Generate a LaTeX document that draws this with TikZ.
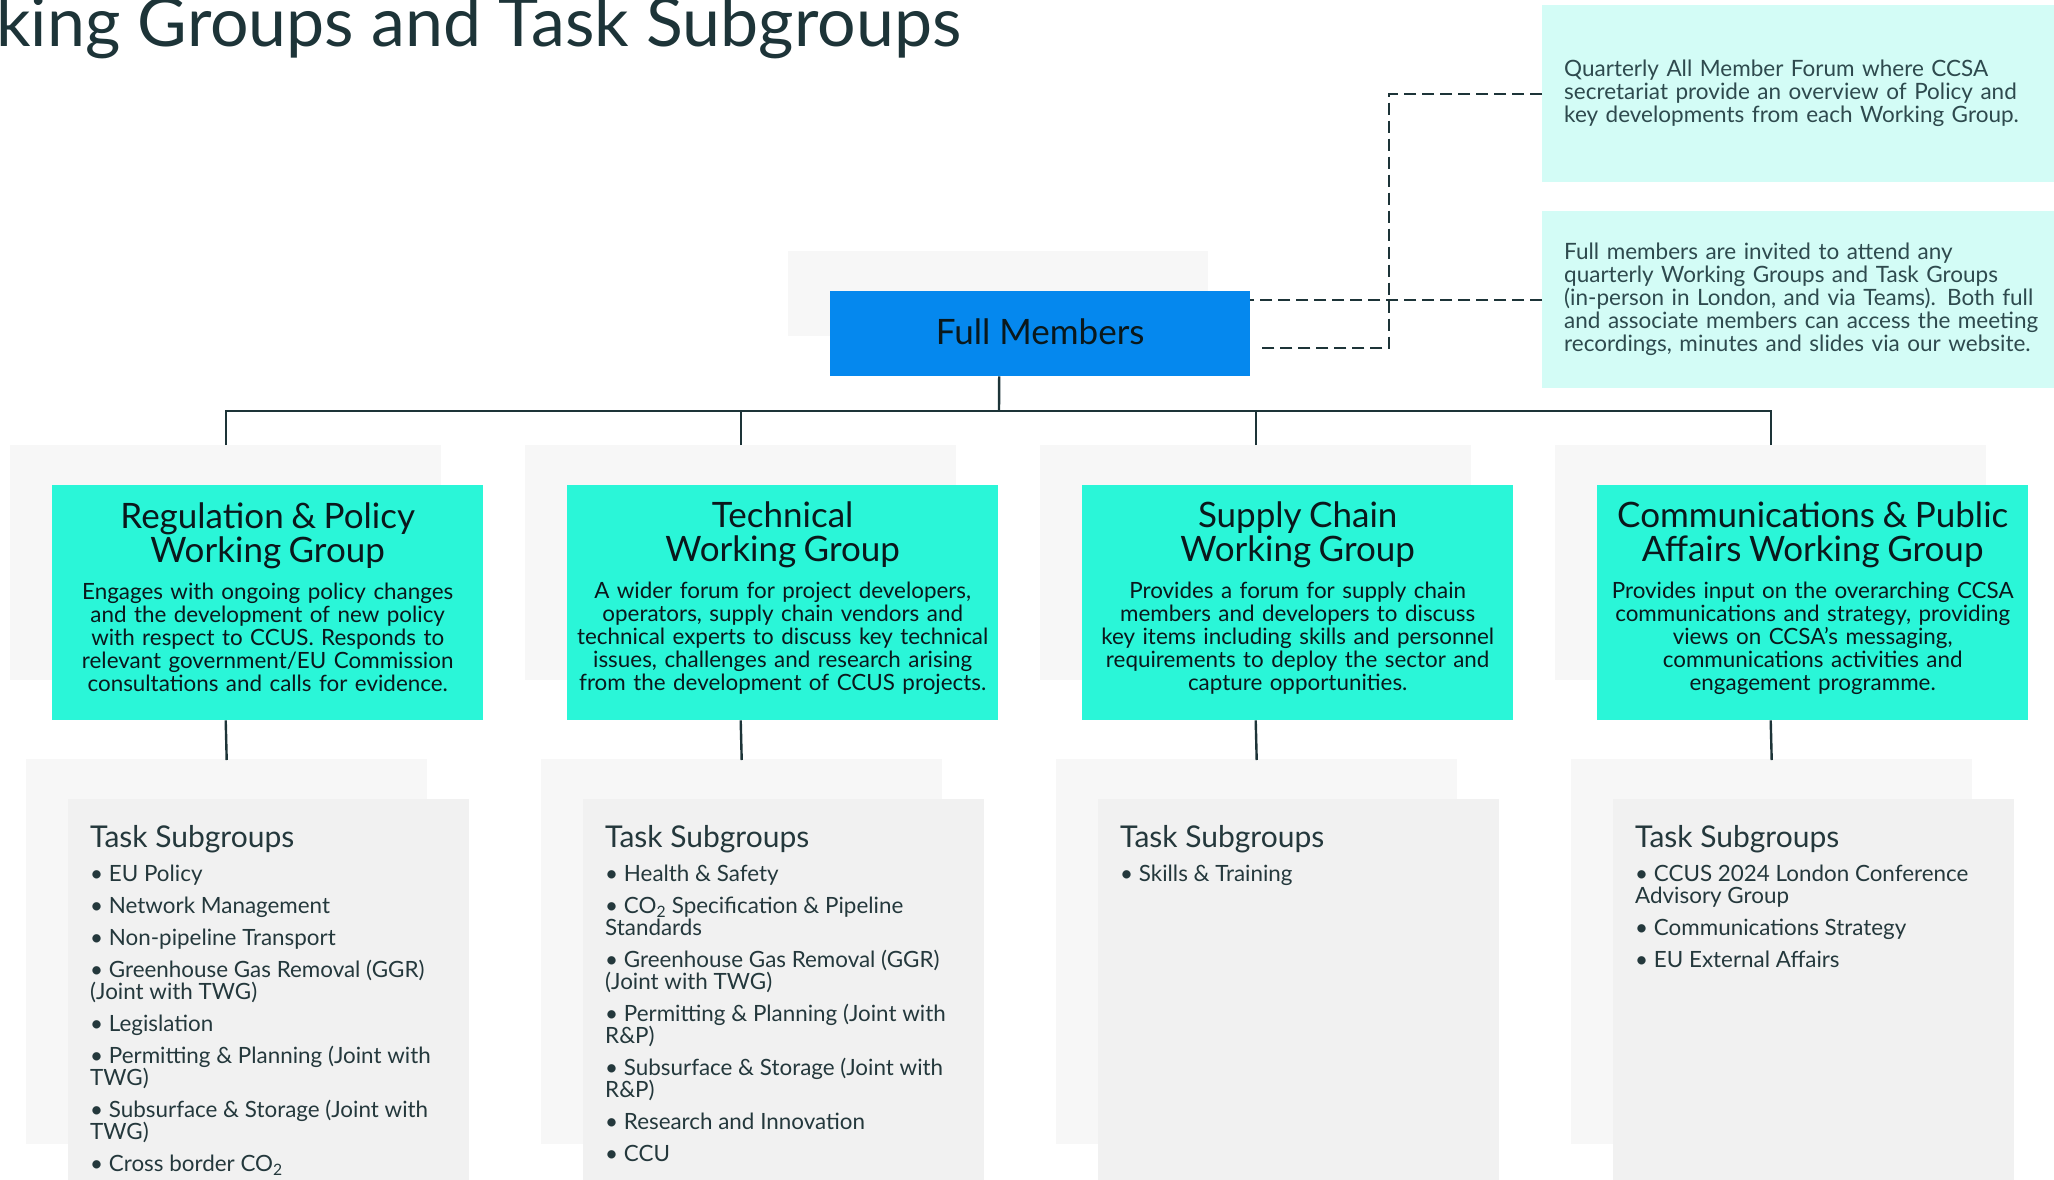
\documentclass[tikz,border=0pt]{standalone}
\usepackage{fontspec}
\setmainfont{Lato}
\usetikzlibrary{shadows}

\definecolor{fmblue}{RGB}{5,136,238}
\definecolor{wgteal}{RGB}{42,246,216}
\definecolor{notecyan}{RGB}{211,252,246}
\definecolor{backgrey}{RGB}{247,247,247}
\definecolor{taskgrey}{RGB}{241,241,241}
\definecolor{inkdark}{RGB}{29,52,56}
\definecolor{inkblack}{RGB}{10,24,28}
\definecolor{notetext}{RGB}{46,74,78}
\definecolor{tasktext}{RGB}{36,56,60}

\newcommand{\wghead}{\fontsize{35}{34}\selectfont}
\newcommand{\wgdesc}{\fontsize{22.4}{23}\selectfont}
\newcommand{\tshead}{\fontsize{30}{32}\selectfont}
\newcommand{\tsitem}{\fontsize{22.4}{22}\selectfont}
\newcommand{\COtwo}{CO\textsubscript{2}}
\newcommand{\tslist}[1]{\parbox[c][385pt][t]{401pt}{\raggedright\leftskip=22pt\vspace*{26pt}%
  {\tshead Task Subgroups\par}\vspace{2pt}%
  \tsitem\parskip=10pt #1}}

\begin{document}
\begin{tikzpicture}[x=1pt,y=-1pt,
  backcard/.style={copy shadow={shadow xshift=-42pt,shadow yshift=40pt,fill=backgrey,draw=none}},
  fmbox/.style={backcard,fill=fmblue,anchor=north west,minimum width=420pt,minimum height=85pt,
    inner sep=0pt,font=\fontsize{35}{40}\selectfont,text=inkblack},
  wgbox/.style={backcard,fill=wgteal,anchor=north west,minimum width=431pt,minimum height=235pt,
    inner sep=0pt,text width=428pt,align=center,font=\wgdesc,text=inkblack},
  tsbox/.style={backcard,fill=taskgrey,anchor=north west,inner sep=0pt,text=tasktext},
  notebox/.style={fill=notecyan,anchor=north west,minimum height=177pt,inner xsep=22pt,
    text width=490pt,align=left,font=\fontsize{22.5}{23}\selectfont,text=notetext},
  link/.style={draw=inkdark,line width=2.4pt},
  dashlink/.style={draw=inkdark,line width=2.4pt,dash pattern=on 12pt off 6pt}]
\useasboundingbox (0,0) rectangle (2054,1179);
\clip (0,0) rectangle (2054,1179);

% heading, cut off at the page edge
\node[anchor=base west,inner sep=0pt,font=\fontsize{68}{68}\selectfont,text=inkdark] (title) at (-4,46) {king Groups and Task Subgroups};

% notes on the right
\node[notebox] (note1) at (1542,5) {Quarterly All Member Forum where CCSA\\secretariat provide an overview of Policy and\\key developments from each Working Group.};
\node[notebox] (note2) at (1542,211) {Full members are invited to attend any\\quarterly Working Groups and Task Groups\\(in-person in London, and via Teams). Both full\\and associate members can access the meeting\\recordings, minutes and slides via our website.};

% top box
\node[fmbox] (fm) at (830,291) {\raisebox{4pt}{Full Members}};
\coordinate (bus) at (999,411);
\coordinate (elbow) at (1389,348);
\coordinate (fmtap) at (1258,348);

% working groups
\node[wgbox] (wg1) at (52,485) {{\wghead Regulation \& Policy\\Working Group\par}\vspace{14pt}%
  Engages with ongoing policy changes\\and the development of new policy\\with respect to CCUS. Responds to\\relevant government/EU Commission\\consultations and calls for evidence.\par\vspace{11pt}};
\node[wgbox] (wg2) at (567,485) {{\wghead Technical\\Working Group\par}\vspace{14pt}%
  A wider forum for project developers,\\operators, supply chain vendors and\\technical experts to discuss key technical\\issues, challenges and research arising\\from the development of CCUS projects.\par\vspace{9pt}};
\node[wgbox] (wg3) at (1082,485) {{\wghead Supply Chain\\Working Group\par}\vspace{14pt}%
  Provides a forum for supply chain\\members and developers to discuss\\key items including skills and personnel\\requirements to deploy the sector and\\capture opportunities.\par\vspace{9pt}};
\node[wgbox] (wg4) at (1597,485) {{\wghead Communications \& Public\\Affairs Working Group\par}\vspace{14pt}%
  Provides input on the overarching CCSA\\communications and strategy, providing\\views on CCSA’s messaging,\\communications activities and\\engagement programme.\par\vspace{9pt}};

% task subgroups
\node[tsbox] (ts1) at (68,799) {\tslist{%
  \textbullet{} EU Policy\par
  \textbullet{} Network Management\par
  \textbullet{} Non-pipeline Transport\par
  \textbullet{} Greenhouse Gas Removal (GGR)\newline(Joint with TWG)\par
  \textbullet{} Legislation\par
  \textbullet{} Permitting \& Planning (Joint with\newline TWG)\par
  \textbullet{} Subsurface \& Storage (Joint with\newline TWG)\par
  \textbullet{} Cross border \COtwo\par}};
\node[tsbox] (ts2) at (583,799) {\tslist{%
  \textbullet{} Health \& Safety\par
  \textbullet{} \COtwo{} Specification \& Pipeline\newline Standards\par
  \textbullet{} Greenhouse Gas Removal (GGR)\newline(Joint with TWG)\par
  \textbullet{} Permitting \& Planning (Joint with\newline R\&P)\par
  \textbullet{} Subsurface \& Storage (Joint with\newline R\&P)\par
  \textbullet{} Research and Innovation\par
  \textbullet{} CCU\par}};
\node[tsbox] (ts3) at (1098,799) {\tslist{%
  \textbullet{} Skills \& Training\par}};
\node[tsbox] (ts4) at (1613,799) {\tslist{%
  \textbullet{} CCUS 2024 London Conference\newline Advisory Group\par
  \textbullet{} Communications Strategy\par
  \textbullet{} EU External Affairs\par}};

% connectors
\draw[link] ([xshift=-41pt]fm.south) -- (bus);
\draw[link] ([xshift=-42pt,yshift=40pt]wg1.north) |- (bus);
\draw[link] ([xshift=-42pt,yshift=40pt]wg2.north) |- (bus);
\draw[link] ([xshift=-42pt,yshift=40pt]wg3.north) |- (bus);
\draw[link] ([xshift=-42pt,yshift=40pt]wg4.north) |- (bus);
\draw[link] ([xshift=-42pt]wg1.south) -- ([xshift=-42pt,yshift=39pt]ts1.north);
\draw[link] ([xshift=-42pt]wg2.south) -- ([xshift=-42pt,yshift=39pt]ts2.north);
\draw[link] ([xshift=-42pt]wg3.south) -- ([xshift=-42pt,yshift=39pt]ts3.north);
\draw[link] ([xshift=-42pt]wg4.south) -- ([xshift=-42pt,yshift=39pt]ts4.north);
\draw[dashlink] (note1.west) -| (elbow) -- (fmtap);
\draw[dashlink] (note2.west) -- (note2.west -| fm.east);
\end{tikzpicture}
\end{document}
